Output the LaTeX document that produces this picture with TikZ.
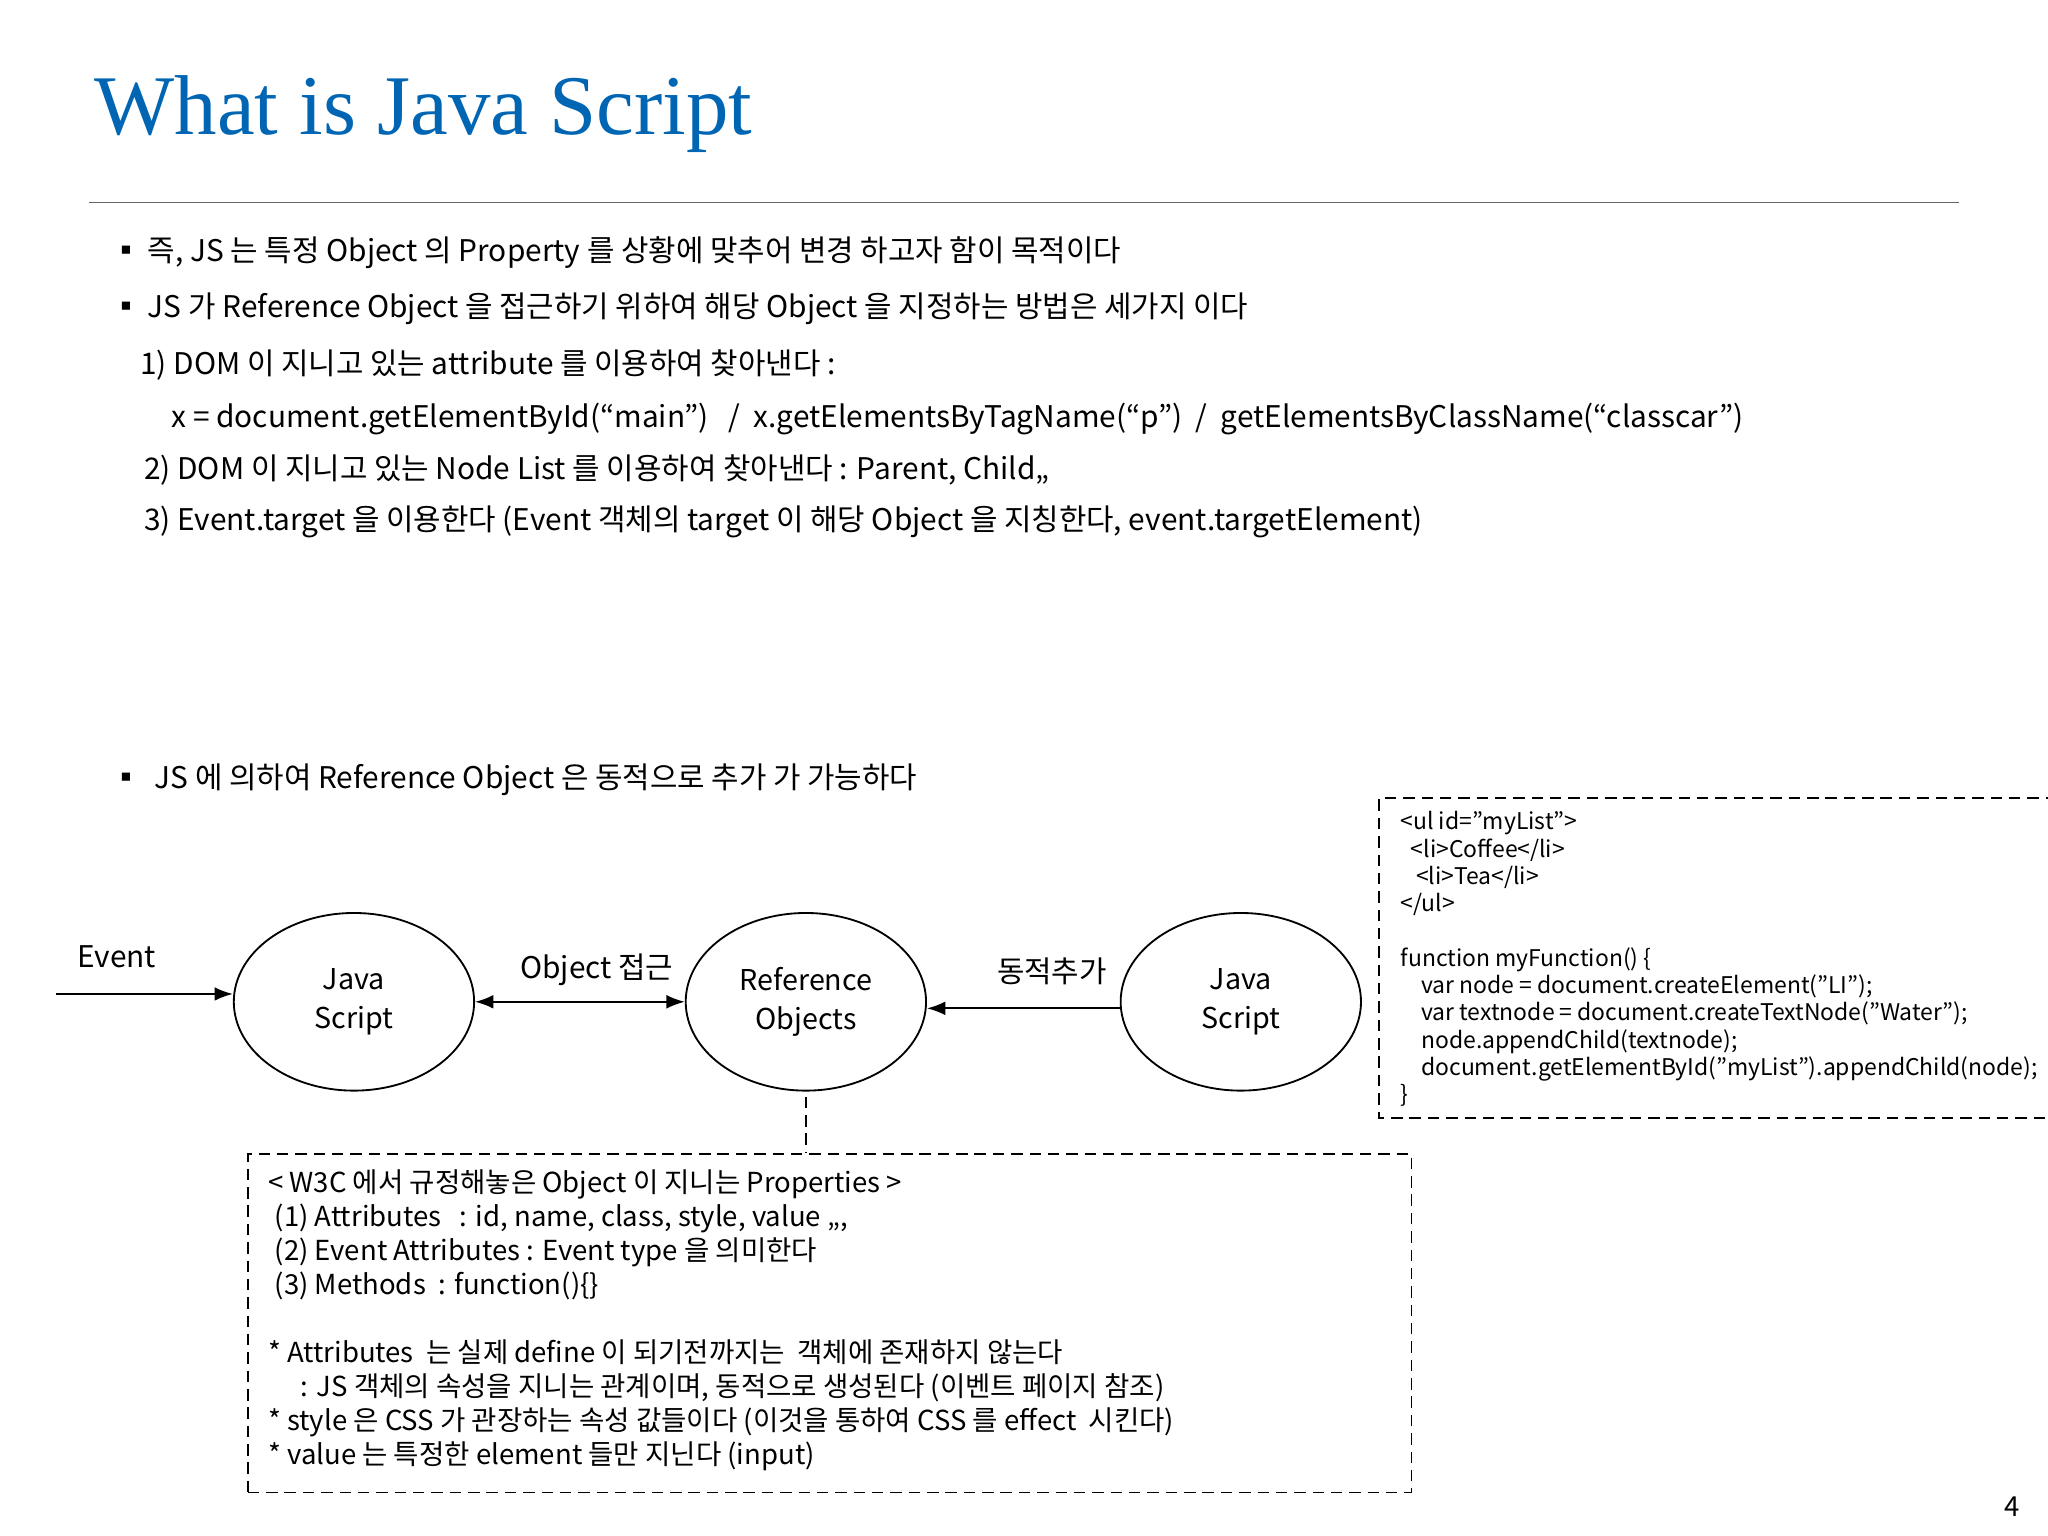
\documentclass[tikz,border=0pt]{standalone}
\usepackage{fontspec}
\setmainfont{Noto Sans CJK KR}
\newfontfamily\titlefont{Liberation Serif}
\usetikzlibrary{arrows.meta,shapes.geometric}
\definecolor{titleblue}{RGB}{0,102,179}
\tikzset{
  txt/.style={anchor=base west,inner sep=0pt,font=\fontsize{13}{16}\selectfont},
  boxtxt/.style={anchor=base west,inner sep=0pt,font=\fontsize{12}{14}\selectfont},
  ell/.style={draw,thick,ellipse,minimum width=184*0.02cm,minimum height=136*0.02cm,align=center,font=\fontsize{12.5}{17}\selectfont},
  arr/.style={thick,-{Latex[length=8pt,width=6pt]}},
  dbox/.style={draw,thick,dashed,dash pattern=on 5pt off 3pt},
}
\begin{document}
\begin{tikzpicture}[x=0.02cm,y=-0.02cm]
\useasboundingbox (0,0) rectangle (1568,1176);
\fill[white] (0,0) rectangle (1568,1176);
\node[anchor=base west,inner sep=0pt,font=\titlefont\fontsize{37}{40}\selectfont,text=titleblue] (title) at (72,103) {What is Java Script};
\draw[gray!80!black,thick] (68,155) -- (1500,155);
\node[txt] (b1) at (85,200) {▪ 즉, JS 는 특정 Object 의 Property 를 상황에 맞추어 변경 하고자 함이  목적이다};
\node[txt] (b2) at (85,243) {▪ JS 가 Reference Object 을 접근하기 위하여 해당 Object 을 지정하는 방법은 세가지 이다};
\node[txt] (l1) at (107,287) {1) DOM 이 지니고 있는 attribute 를 이용하여 찾아낸다 :};
\node[txt] (l2) at (131,327) {x = document.getElementById(“main”)\ \ \ /\ \ x.getElementsByTagName(“p”)\ \ /\ \ getElementsByClassName(“classcar”)};
\node[txt] (l3) at (110,367) {2) DOM 이 지니고 있는 Node List 를 이용하여 찾아낸다 : Parent, Child,,};
\node[txt] (l4) at (110,406) {3) Event.target 을 이용한다 (Event 객체의 target 이 해당 Object 을 지칭한다, event.targetElement)};
\node[txt] (b3) at (85,604) {▪\ \ JS 에 의하여 Reference Object 은 동적으로 추가 가 가능하다};

\node[ell] (js1) at (271,767) {Java\\Script};
\node[ell] (ref) at (617,767) {Reference\\Objects};
\node[ell] (js2) at (950,767) {Java\\Script};
\coordinate (ev) at (43,761);
\draw[arr] (ev) -- (ev -| js1.west);
\node[txt] (evl) at (59,741) {Event};
\draw[thick,{Latex[length=8pt,width=6pt]}-{Latex[length=8pt,width=6pt]}] (js1.east) -- (ref.west);
\node[txt] (ol) at (398,749) {Object 접근};
\draw[arr] ([yshift=-5*0.02cm]js2.west) -- ([yshift=-5*0.02cm]ref.east);
\node[txt] (dl) at (763,752) {동적추가};
\node[dbox,minimum width=891*0.02cm,minimum height=259*0.02cm,anchor=north west] (pbox) at (189,883) {};
\draw[dbox] (ref.south) ++(0,4) coordinate (rs) -- (rs |- pbox.north);
\node[boxtxt] at (205,913) {< W3C 에서 규정해놓은 Object 이 지니는 Properties >};
\node[boxtxt] at (210,939) {(1) Attributes\ \ \ : id, name, class, style, value ,,,};
\node[boxtxt] at (210,965) {(2) Event Attributes : Event type 을 의미한다};
\node[boxtxt] at (210,991) {(3) Methods\ \ : function()\{\}};
\node[boxtxt] at (205,1043) {* Attributes\ \ 는 실제 define 이 되기전까지는\ \ 객체에 존재하지 않는다};
\node[boxtxt] at (230,1069) {: JS 객체의 속성을 지니는 관계이며, 동적으로 생성된다 (이벤트 페이지 참조)};
\node[boxtxt] at (205,1095) {* style 은 CSS 가 관장하는 속성 값들이다 (이것을 통하여 CSS 를 effect\ \ 시킨다)};
\node[boxtxt] at (205,1121) {* value 는 특정한 element 들만 지닌다 (input)};

\draw[dbox] (1575,611) -- (1056,611) -- (1056,856) -- (1575,856);
\node[anchor=north west,inner sep=0pt,align=left,font=\fontsize{10}{11.9}\selectfont] (code) at (1072,621) {%
<ul id="myList">\\
\ \ <li>Coffee</li>\\
\ \ \ <li>Tea</li>\\
</ul>\\[11.9pt]
function myFunction() \{\\
\ \ \ \ var node = document.createElement("LI");\\
\ \ \ \ var textnode = document.createTextNode("Water");\\
\ \ \ \ node.appendChild(textnode);\\
\ \ \ \ document.getElementById("myList").appendChild(node);\\
\}};
\node[anchor=base east,inner sep=0pt,font=\fontsize{12}{14}\selectfont] (pg) at (1547,1161) {4};
\end{tikzpicture}
\end{document}
